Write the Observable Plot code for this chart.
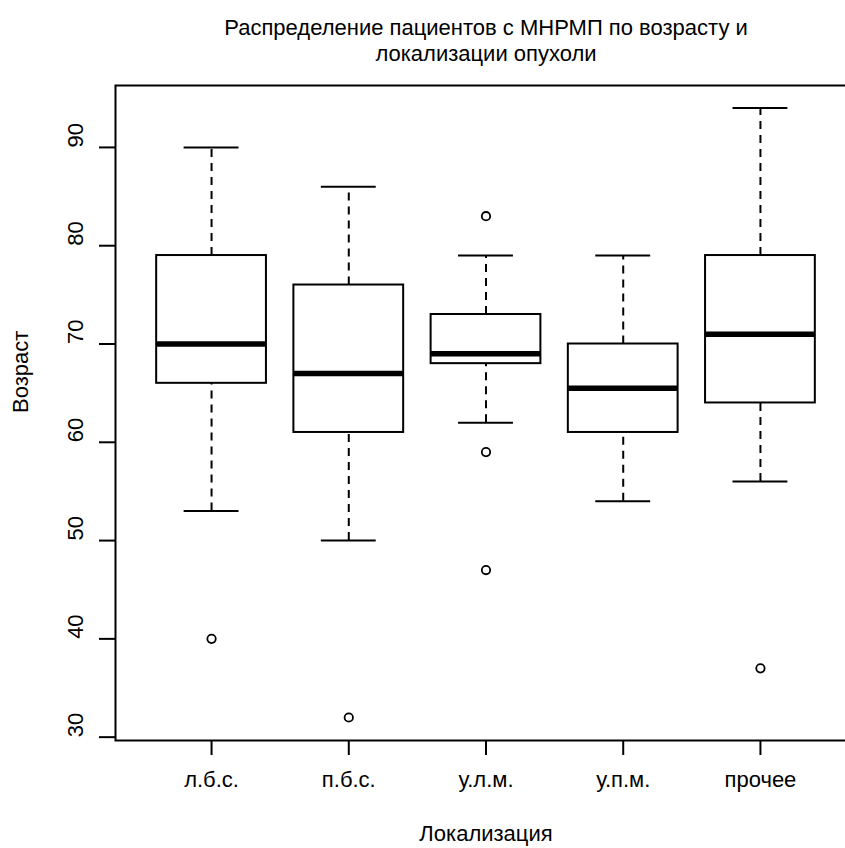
<!DOCTYPE html>
<html>
<head>
<meta charset="utf-8">
<script src="https://cdn.jsdelivr.net/npm/d3@7"></script>
<script src="https://cdn.jsdelivr.net/npm/@observablehq/plot@0.6"></script>
<style>
  html, body { margin: 0; padding: 0; background: #fff; overflow: hidden; }
  #chart { position: relative; width: 845px; height: 848px; overflow: hidden; }
  #chart svg { font-family: "Liberation Sans", Arial, sans-serif; max-width: none !important; }
</style>
</head>
<body>
<div id="chart"></div>
<script>
// Age of patients by tumour localisation: five-number summaries per group
const categories  = ["л.б.с.", "п.б.с.", "у.л.м.", "у.п.м.", "прочее"];
const whiskerLow  = [53, 50, 62, 54, 56];
const quartile1   = [66, 61, 68, 61, 64];
const medians     = [70, 67, 69, 65.5, 71];
const quartile3   = [79, 76, 73, 70, 79];
const whiskerHigh = [90, 86, 79, 79, 94];

// Points beyond the whiskers
const outlierGroup = ["л.б.с.", "п.б.с.", "у.л.м.", "у.л.м.", "у.л.м.", "прочее"];
const outlierAge   = [40, 32, 83, 59, 47, 37];

const yTicks = [30, 40, 50, 60, 70, 80, 90];

const titleText = "Распределение пациентов с МНРМП по возрасту и\nлокализации опухоли";
const xTitle = "Локализация";
const yTitle = "Возраст";

// Groups sit at 1..n on a numeric axis, like base R boxplot
const boxes = categories.map((name, i) => ({
  name, pos: i + 1,
  lo: whiskerLow[i], q1: quartile1[i], med: medians[i], q3: quartile3[i], hi: whiskerHigh[i]
}));
const outliers = outlierAge.map((age, i) => ({
  pos: categories.indexOf(outlierGroup[i]) + 1, age
}));

const boxHalf = 0.4;   // half box width, in group units
const capHalf = 0.2;   // half whisker-cap width
const fs = 22;

const chart = Plot.plot({
  width: 860,
  height: 848,
  marginLeft: 115,
  marginRight: 4,
  marginTop: 85,
  marginBottom: 108,
  style: { maxWidth: "none" },
  x: { type: "linear", domain: [0.3, categories.length + 0.7], axis: null },
  y: { domain: [29.66, 96.3], axis: null },
  marks: [
    // dashed whiskers
    Plot.ruleX(boxes, { x: "pos", y1: "q3", y2: "hi", stroke: "black", strokeWidth: 2, strokeDasharray: "8,6" }),
    Plot.ruleX(boxes, { x: "pos", y1: "lo", y2: "q1", stroke: "black", strokeWidth: 2, strokeDasharray: "8,6" }),
    // whisker caps
    Plot.ruleY(boxes, { y: "hi", x1: d => d.pos - capHalf, x2: d => d.pos + capHalf, stroke: "black", strokeWidth: 2 }),
    Plot.ruleY(boxes, { y: "lo", x1: d => d.pos - capHalf, x2: d => d.pos + capHalf, stroke: "black", strokeWidth: 2 }),
    // interquartile boxes
    Plot.rect(boxes, { x1: d => d.pos - boxHalf, x2: d => d.pos + boxHalf, y1: "q1", y2: "q3", fill: "white", stroke: "black", strokeWidth: 2 }),
    // medians
    Plot.ruleY(boxes, { y: "med", x1: d => d.pos - boxHalf, x2: d => d.pos + boxHalf, stroke: "black", strokeWidth: 5.5 }),
    // outliers
    Plot.dot(outliers, { x: "pos", y: "age", r: 4.2, stroke: "black", strokeWidth: 1.8, fill: "none" }),
    // plot box
    Plot.frame({ stroke: "black", strokeWidth: 2 }),
    // axis ticks
    Plot.axisX({ ticks: boxes.map(d => d.pos), tickSize: 15, tickFormat: () => "", label: null, strokeWidth: 2, stroke: "black" }),
    Plot.axisY({ ticks: yTicks, tickSize: 16, tickFormat: () => "", label: null, strokeWidth: 2, stroke: "black" }),
    // tick labels
    Plot.text(boxes, { x: "pos", text: "name", frameAnchor: "bottom", dy: 46, fontSize: fs, fill: "black" }),
    Plot.text(yTicks, { y: d => d, text: d => String(d), frameAnchor: "left", dx: -40, rotate: -90, fontSize: fs, fill: "black" }),
    // axis titles
    Plot.text([xTitle], { frameAnchor: "bottom", dy: 100, fontSize: fs, fill: "black" }),
    Plot.text([yTitle], { frameAnchor: "left", dx: -95, rotate: -90, fontSize: fs, fill: "black" }),
    // main title
    Plot.text([titleText], { frameAnchor: "top", dy: -45.5, lineAnchor: "middle", lineHeight: 1.15, fontSize: fs, fill: "black" })
  ]
});

document.getElementById("chart").appendChild(chart);
</script>
</body>
</html>
